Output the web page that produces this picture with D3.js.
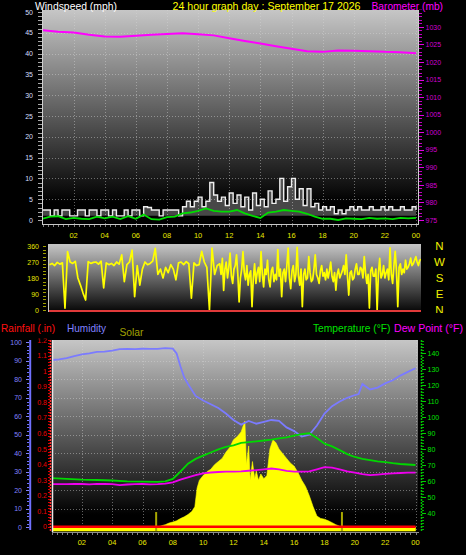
<!DOCTYPE html>
<html>
<head>
<meta charset="utf-8">
<script src="https://cdn.jsdelivr.net/npm/d3@7/dist/d3.min.js"></script>
<style>
html,body{margin:0;padding:0;background:#000;}
svg{display:block;}
text{font-family:"Liberation Sans",Arial,sans-serif;}
</style>
</head>
<body>
<svg id="chart" width="466" height="555"></svg>
<script>
// ================= DATA =================
const hourTickHours = [2,4,6,8,10,12,14,16,18,20,22,24];
const hourTickLabels = ["02","04","06","08","10","12","14","16","18","20","22","00"];
const windTickValues = [0,5,10,15,20,25,30,35,40,45,50];
const baroTickValues = [975,980,985,990,995,1000,1005,1010,1015,1020,1025,1030];
const dirTickValues = [0,90,180,270,360];
const dirLetterValues = [360,270,180,90,0];
const dirLetters = ["N","W","S","E","N"];
const humidityTickValues = [0,10,20,30,40,50,60,70,80,90,100];
const rainTickValues = [0,0.1,0.2,0.3,0.4,0.5,0.6,0.7,0.8,0.9,1,1.1,1.2];
const tempTickValues = [40,50,60,70,80,90,100,110,120,130,140];

// Barometer (mb), hourly
const baroHours = [0,1,2,3,4,5,6,7,8,9,10,11,12,13,14,15,16,17,18,19,20,21,22,23,24];
const baroValues = [1029.1,1028.6,1028.4,1027.8,1027.3,1027.2,1027.5,1027.8,1028.0,1028.2,1027.9,1027.6,1026.8,1026.0,1025.3,1024.5,1023.8,1023.1,1022.9,1023.3,1023.2,1023.1,1022.9,1022.8,1022.5];

// Wind gust (mph), every 15 minutes
const gustStepMinutes = 15;
const gustValues = [
 2.4,2.4,1.0,2.4, 1.0,2.4,2.4,1.0, 1.0,2.4,2.4,1.0, 2.4,2.4,1.0,2.4,
 2.4,1.0,2.4,1.0, 1.0,2.4,1.0,2.4, 2.4,1.0,3.2,3.0, 2.4,2.4,1.0,2.4,
 2.4,2.4,2.4,1.0, 3.2,4.5,3.2,4.5, 5.5,3.2,4.5,9.0, 6.0,4.5,5.5,3.5,
 6.5,4.0,6.0,3.2, 5.5,2.4,6.5,3.5, 5.0,3.2,7.0,4.0, 5.0,10.0,4.5,8.0,
 10.0,5.0,7.5,3.5, 7.5,3.2,4.0,2.4, 3.2,2.4,3.2,1.5, 2.4,1.5,2.4,3.2,
 2.4,3.2,2.4,2.4, 3.2,2.4,2.4,3.2, 2.4,3.2,2.4,2.4, 3.2,2.4,2.4,3.2, 2.4];

// Average wind speed (mph), every 30 minutes
const avgWindStepMinutes = 30;
const avgWindValues = [0.3,0.8, 0.9,0.2, 0.5,0.3, 0.2,0.8, 0.4,0.8, 0.2,0.9, 0.3,1.3, 0.2,0.1,
 0.7,0.8, 1.6,1.8, 2.2,2.8, 2.2,2.0, 2.0,2.4, 1.6,1.0, 0.5,1.8, 2.0,2.4, 2.2,2.0, 1.5,0.8,
 0.3,0.3, 0.0,0.4, 0.3,0.2, 0.5,0.3, 0.4,0.2, 0.5,0.4, 0.5];

// Wind direction (degrees): 00-11h every 10 minutes, 11-24h every 5 minutes
const dirAmStepMinutes = 10;
const dirAmValues = [
 255,262,250,268,258,265, 10,328,270,262,274,180, 140,95,56,272,262,268,
 270,258,275,124,265,255, 262,250,270,258,310,160, 255,270,337,75,250,140,
 230,270,255,262,275,347, 200,230,180,240,210,255, 230,170,265,270,255,272,
 260,67,265,250,255,330, 270,240,0,348,200,250];
const dirPmStartHour = 11;
const dirPmStepMinutes = 5;
const dirPmValues = [
 260,200,290,110,230,270,180,240,320,190,150,230,
 250,310,200,45,180,230,328,210,170,250,140,200,
 220,19,180,260,150,210,240,160,328,200,130,230,
 200,280,170,130,220,240,160,200,170,340,190,230,
 75,210,230,160,250,348,180,120,220,250,160,200,
 352,190,140,230,19,200,230,170,180,300,210,160,
 170,230,310,200,180,150,220,250,190,210,170,230,
 180,220,270,190,160,210,112,200,230,180,200,220,
 250,200,310,190,84,210,220,170,180,230,260,200,
 200,240,230,180,300,210,150,200,11,220,240,190,
 190,230,0,210,290,180,200,250,180,210,230,170,
 349,200,150,250,330,220,19,240,260,200,230,210,
 280,230,240,260,292,250,260,280,300,270,250,280, 285];

// Humidity (%)
const humidityHours = [0,0.5,1,1.5,2,2.5,3,3.5,4,4.5,5,5.5,6,6.5,7,7.5,8,8.25,8.5,8.75,9,9.5,10,10.5,11,11.5,12,12.5,13,13.5,14,14.5,15,15.5,16,16.5,17,17.5,18,18.5,19,19.5,20,20.25,20.5,21,21.5,22,22.5,23,23.5,24];
const humidityValues = [90.4,90.8,91.5,92.5,93.5,94,94.8,95,95.5,96.3,96.4,96.3,96.5,96.4,96.5,96.8,96.6,94,87,81,77.5,71,68.5,66.5,64.5,61.5,58,55.5,57.5,56,57,58,57.5,54,52,49,50,55,61.5,65.5,68,70,71.5,72,77.5,74.5,75.5,77.8,79.5,82,84,86];

// Temperature (°F)
const tempHours = [0,1,2,3,4,5,6,7,7.5,8,8.5,9,9.5,10,10.5,11,11.5,12,12.5,13,13.5,14,14.5,15,15.5,16,16.5,17,17.5,18,18.5,19,19.5,20,20.5,21,21.5,22,22.5,23,23.5,24];
const tempValues = [62,61.5,61,60.8,60.5,60,59.8,59.7,60,61.5,66,71,74,76,78,80,81.5,82.5,84,84.5,85,85.5,86,86.8,87.5,88.5,89.5,90,87,83.5,81.8,79.5,77,75.2,74,73.2,72.5,72,71.3,70.8,70.5,70.2];

// Dew point (°F), every 30 minutes
const dewStepMinutes = 30;
const dewValues = [58.3,58.2,58.2,58.4,58.3,58.1,58.4,58.3,58.2,57.6,58,58.2,58.3,58.1,58.2,58.5,59.3,61,62.5,63.8,65,65.5,65.8,66,66,66.2,66.6,67,67.5,68,67.5,66.5,66,66,66.2,67.5,68.8,68.5,67.5,66.2,65.4,64.5,63.9,64.2,64.6,65,65.2,65.4,65.4];

// Solar radiation (W/m2)
const solarHours = [0,7.0,7.25,7.5,7.75,8.0,8.25,8.5,8.75,9.0,9.25,9.45,9.6,9.75,10.0,10.25,10.5,10.75,11.0,11.25,11.5,11.75,12.0,12.25,12.5,12.75,12.85,13.0,13.1,13.25,13.4,13.5,13.65,13.8,14.0,14.2,14.4,14.6,14.8,15.0,15.25,15.5,15.75,16.0,16.25,16.5,16.75,17.0,17.25,17.5,17.75,18.0,18.25,18.5,18.75,19.0,19.25,24];
const solarValues = [0,0,8,15,25,32,40,54,65,80,100,130,250,300,330,355,370,400,420,440,480,510,560,580,610,680,400,520,300,420,310,360,300,340,310,330,500,560,540,500,470,440,410,390,350,300,260,200,130,70,55,50,40,28,15,5,0,0];
const sunMarkerHours = [6.9, 19.15];
const sunMarkerValues = [96, 96];

// Rainfall (in)
const rainHours = [0, 24];
const rainValues = [0, 0];

// ================= CHART =================
const svg = d3.select("#chart");
const defs = svg.append("defs");
function vgrad(id, stops){
  const g = defs.append("linearGradient").attr("id",id).attr("x1",0).attr("y1",0).attr("x2",0).attr("y2",1);
  stops.forEach(([o,c])=>g.append("stop").attr("offset",o).attr("stop-color",c));
}
vgrad("bgTop", [[0,"#c6c6c6"],[0.9,"#000000"],[1,"#000000"]]);
vgrad("bgMid", [[0,"#c6c6c6"],[1,"#050505"]]);
vgrad("bgBot", [[0,"#c6c6c6"],[0.91,"#000000"],[1,"#000000"]]);
function clip(id,P){ defs.append("clipPath").attr("id",id).append("rect").attr("x",P.x0).attr("y",P.y0).attr("width",P.x1-P.x0).attr("height",P.y1-P.y0); }

function txt(x,y,s,color,size,anchor,len){
  const t = svg.append("text").attr("x",x).attr("y",y).text(s).attr("fill",color)
    .style("font-size",size+"px").attr("text-anchor",anchor||"start");
  if(len) t.attr("textLength",len).attr("lengthAdjust","spacingAndGlyphs");
  return t;
}
function panelBg(P,g){ svg.append("rect").attr("x",P.x0).attr("y",P.y0).attr("width",P.x1-P.x0).attr("height",P.y1-P.y0).attr("fill",`url(#${g})`); }
const gridStyle = s => s.attr("stroke","#d8d8d8").attr("stroke-opacity",0.45).attr("stroke-dasharray","1,2").attr("stroke-width",1);
function ticksV(x, scale, values, len, color){
  svg.append("g").selectAll("line").data(values).join("line")
    .attr("x1",x).attr("x2",x+len).attr("y1",d=>Math.round(scale(d))+0.5).attr("y2",d=>Math.round(scale(d))+0.5)
    .attr("stroke",color).attr("stroke-width",1);
}

// ---------- TOP PANEL ----------
const T = {x0:43, x1:418, y0:10, y1:224};
const xT = d3.scaleLinear([0,24],[42.5,416]);
const yWind = d3.scaleLinear([0,50],[220,12]);
const yBaro = d3.scaleLinear([975,1035],[220,9.4]);
clip("clipT",T);
panelBg(T,"bgTop");
const gT = svg.append("g").attr("clip-path","url(#clipT)");
gT.selectAll("line.v").data(hourTickHours).join("line").attr("class","v")
  .attr("x1",d=>Math.round(xT(d))+0.5).attr("x2",d=>Math.round(xT(d))+0.5).attr("y1",T.y0).attr("y2",T.y1).call(gridStyle);
gT.selectAll("line.h").data(windTickValues.slice(1,-1)).join("line").attr("class","h")
  .attr("y1",d=>Math.round(yWind(d))+0.5).attr("y2",d=>Math.round(yWind(d))+0.5).attr("x1",T.x0).attr("x2",T.x1).call(gridStyle);
gT.append("path").datum(gustValues).attr("fill","#ffffff").attr("fill-opacity",0.28).attr("stroke","none")
  .attr("d", d3.area().x((d,i)=>xT(i*gustStepMinutes/60)).y0(yWind(1)).y1(d=>yWind(d)).curve(d3.curveStepAfter));
gT.append("path").datum(gustValues).attr("fill","none").attr("stroke","#eeeeee").attr("stroke-width",1.4)
  .attr("d", d3.line().x((d,i)=>xT(i*gustStepMinutes/60)).y(d=>yWind(d)).curve(d3.curveStepAfter));
gT.append("path").datum(avgWindValues).attr("fill","none").attr("stroke","#00dd00").attr("stroke-width",1.8)
  .attr("d", d3.line().x((d,i)=>xT(i*avgWindStepMinutes/60)).y(d=>yWind(d)));
gT.append("path").datum(d3.zip(baroHours,baroValues)).attr("fill","none").attr("stroke","#ff00ff").attr("stroke-width",2)
  .attr("d", d3.line().x(d=>xT(d[0])).y(d=>yBaro(d[1])));
svg.append("line").attr("x1",42.5).attr("x2",42.5).attr("y1",T.y0).attr("y2",T.y1+1).attr("stroke","#d0d0d0");
svg.append("line").attr("x1",T.x1+0.5).attr("x2",T.x1+0.5).attr("y1",T.y0).attr("y2",T.y1+1).attr("stroke","#d0d0d0");
svg.append("line").attr("x1",42).attr("x2",T.x1+1).attr("y1",T.y1+0.5).attr("y2",T.y1+0.5).attr("stroke","#c8c8c8");
ticksV(42, yWind, yWind.ticks(50), -4, "#a8a8a8");
windTickValues.forEach(v=>txt(33, yWind(v)+2.6, v, "#d4deff", 7, "end"));
ticksV(419, yBaro, yBaro.ticks(60), 3, "#c000c0");
ticksV(419, yBaro, baroTickValues, 5, "#e000e0");
baroTickValues.forEach(v=>txt(425.5, yBaro(v)+2.6, v, "#d000d0", 7, "start"));
svg.append("g").selectAll("line").data(d3.range(0,24.01,1/3)).join("line")
  .attr("x1",d=>Math.round(xT(d))+0.5).attr("x2",d=>Math.round(xT(d))+0.5).attr("y1",T.y1+1).attr("y2",T.y1+3).attr("stroke","#808080");
hourTickHours.forEach((h,i)=>txt(xT(h), 238, hourTickLabels[i], "#e8e800", 7.5, "middle"));

// ---------- MIDDLE PANEL ----------
const M = {x0:49, x1:421, y0:244, y1:312};
const xM = d3.scaleLinear([0,24],[49.5,421]);
const yDir = d3.scaleLinear([0,360],[310,246]);
clip("clipM",M);
panelBg(M,"bgMid");
const gM = svg.append("g").attr("clip-path","url(#clipM)");
const dirPoints = dirAmValues.map((v,i)=>[i*dirAmStepMinutes/60, v])
  .concat(dirPmValues.map((v,i)=>[dirPmStartHour + i*dirPmStepMinutes/60, v]));
gM.append("path").datum(dirPoints).attr("fill","none").attr("stroke","#ffff00").attr("stroke-width",1.7)
  .attr("stroke-linejoin","round")
  .attr("d", d3.line().x(d=>xM(d[0])).y(d=>yDir(d[1])));
svg.append("line").attr("x1",48.5).attr("x2",48.5).attr("y1",M.y0).attr("y2",M.y1).attr("stroke","#c8c8c8");
svg.append("line").attr("x1",M.x0).attr("x2",M.x1).attr("y1",311).attr("y2",311).attr("stroke","#e03a3a").attr("stroke-width",2);
ticksV(43, yDir, yDir.ticks(12), 3, "#a0a000");
dirTickValues.forEach(v=>txt(39, yDir(v)+2.6, v, "#e6e600", 7, "end"));
dirLetterValues.forEach((v,i)=>txt(439.5, yDir(v)+4, dirLetters[i], "#f0f000", 11.5, "middle"));

// ---------- BOTTOM PANEL ----------
const B = {x0:52, x1:418, y0:340, y1:532};
const xB = d3.scaleLinear([0,24],[51.5,415.5]);
const yHum = d3.scaleLinear([0,100],[527.3,342.3]);
const yRain = d3.scaleLinear([0,1.2],[526.7,340]);
const yTemp = d3.scaleLinear([30,150],[529.3,337.3]);
const ySolar = d3.scaleLinear([0,1200],[527,340]);
clip("clipB",B);
panelBg(B,"bgBot");
const gB = svg.append("g").attr("clip-path","url(#clipB)");
gB.selectAll("line.v").data(hourTickHours).join("line").attr("class","v")
  .attr("x1",d=>Math.round(xB(d))+0.5).attr("x2",d=>Math.round(xB(d))+0.5).attr("y1",B.y0).attr("y2",B.y1).call(gridStyle);
gB.selectAll("line.h").data(humidityTickValues.slice(1,-1)).join("line").attr("class","h")
  .attr("y1",d=>Math.round(yHum(d))+0.5).attr("y2",d=>Math.round(yHum(d))+0.5).attr("x1",B.x0).attr("x2",B.x1).call(gridStyle);
gB.append("path").datum(d3.zip(solarHours,solarValues)).attr("fill","#ffff00").attr("stroke","#ffff00").attr("stroke-width",0.6)
  .attr("d", d3.area().x(d=>xB(d[0])).y0(531).y1(d=>ySolar(d[1])));
gB.selectAll("line.sun").data(d3.zip(sunMarkerHours,sunMarkerValues)).join("line").attr("class","sun")
  .attr("x1",d=>xB(d[0])).attr("x2",d=>xB(d[0])).attr("y1",d=>ySolar(d[1])).attr("y2",531)
  .attr("stroke","#a8a800").attr("stroke-width",2);
gB.append("path").datum(d3.zip(rainHours,rainValues)).attr("fill","none").attr("stroke","#ff0000").attr("stroke-width",2.4)
  .attr("d", d3.line().x(d=>xB(d[0])).y(d=>yRain(d[1])));
gB.append("path").datum(d3.zip(humidityHours,humidityValues)).attr("fill","none").attr("stroke","#7b7bff").attr("stroke-width",1.8)
  .attr("d", d3.line().x(d=>xB(d[0])).y(d=>yHum(d[1])));
gB.append("path").datum(d3.zip(tempHours,tempValues)).attr("fill","none").attr("stroke","#00d800").attr("stroke-width",1.8)
  .attr("d", d3.line().x(d=>xB(d[0])).y(d=>yTemp(d[1])));
gB.append("path").datum(dewValues).attr("fill","none").attr("stroke","#ee00ee").attr("stroke-width",1.8)
  .attr("d", d3.line().x((d,i)=>xB(i*dewStepMinutes/60)).y(d=>yTemp(d)));
svg.append("line").attr("x1",52.5).attr("x2",52.5).attr("y1",B.y0).attr("y2",B.y1).attr("stroke","#e8e8e8").attr("stroke-width",1.5);
svg.append("line").attr("x1",50.5).attr("x2",50.5).attr("y1",B.y0).attr("y2",B.y1).attr("stroke","#ff3030").attr("stroke-width",1.5).attr("stroke-dasharray","2,1");
svg.append("line").attr("x1",B.x0).attr("x2",B.x1+1).attr("y1",B.y1+0.5).attr("y2",B.y1+0.5).attr("stroke","#909090");
svg.append("line").attr("x1",421.5).attr("x2",421.5).attr("y1",B.y0).attr("y2",B.y1).attr("stroke","#00c000").attr("stroke-width",1.5).attr("stroke-dasharray","2,1");
svg.append("line").attr("x1",30.2).attr("x2",30.2).attr("y1",B.y0).attr("y2",530).attr("stroke","#7070ff").attr("stroke-width",2);
ticksV(29, yHum, yHum.ticks(50), -2, "#7070ff");
ticksV(29, yHum, humidityTickValues, -3, "#8080ff");
humidityTickValues.forEach(v=>txt(22, yHum(v)+2.6, v, "#8080ff", 7, "end"));
ticksV(50, yRain, yRain.ticks(60), -2, "#e00000");
rainTickValues.forEach(v=>txt(47, yRain(v)+2.6, v, "#ee0000", 7, "end"));
ticksV(422, yTemp, yTemp.ticks(60), 2, "#00b000");
ticksV(422, yTemp, tempTickValues, 4, "#00d000");
tempTickValues.forEach(v=>txt(427.5, yTemp(v)+2.6, v, "#00e000", 7, "start"));
svg.append("g").selectAll("line").data(d3.range(0,24.01,1/3)).join("line")
  .attr("x1",d=>Math.round(xB(d))+0.5).attr("x2",d=>Math.round(xB(d))+0.5).attr("y1",B.y1+1).attr("y2",B.y1+3).attr("stroke","#808080");
hourTickHours.forEach((h,i)=>txt(xB(h), 544.5, hourTickLabels[i], "#e8e800", 7.5, "middle"));

// ---------- TITLES / LEGENDS ----------
svg.append("rect").attr("x",0).attr("y",0).attr("width",466).attr("height",9.6).attr("fill","#000");
svg.append("rect").attr("x",0).attr("y",313).attr("width",466).attr("height",25.5).attr("fill","#000");
txt(35, 10, "Windspeed (mph)", "#ffffff", 11, "start", 82);
txt(172.5, 10, "24 hour graph day : September 17 2026", "#ffff00", 11, "start", 188);
txt(371.5, 10, "Barometer (mb)", "#ff00ff", 11, "start", 71.5);
txt(1, 331.5, "Rainfall (.in)", "#ff1010", 11, "start", 54);
txt(67, 331.5, "Humidity", "#8080ff", 11, "start", 39);
txt(119.5, 336, "Solar", "#a0a000", 11, "start", 24);
txt(313, 331.5, "Temperature (°F)", "#00e000", 11, "start", 77.5);
txt(394, 331.5, "Dew Point (°F)", "#ff00ff", 11, "start", 69);
</script>
</body>
</html>
